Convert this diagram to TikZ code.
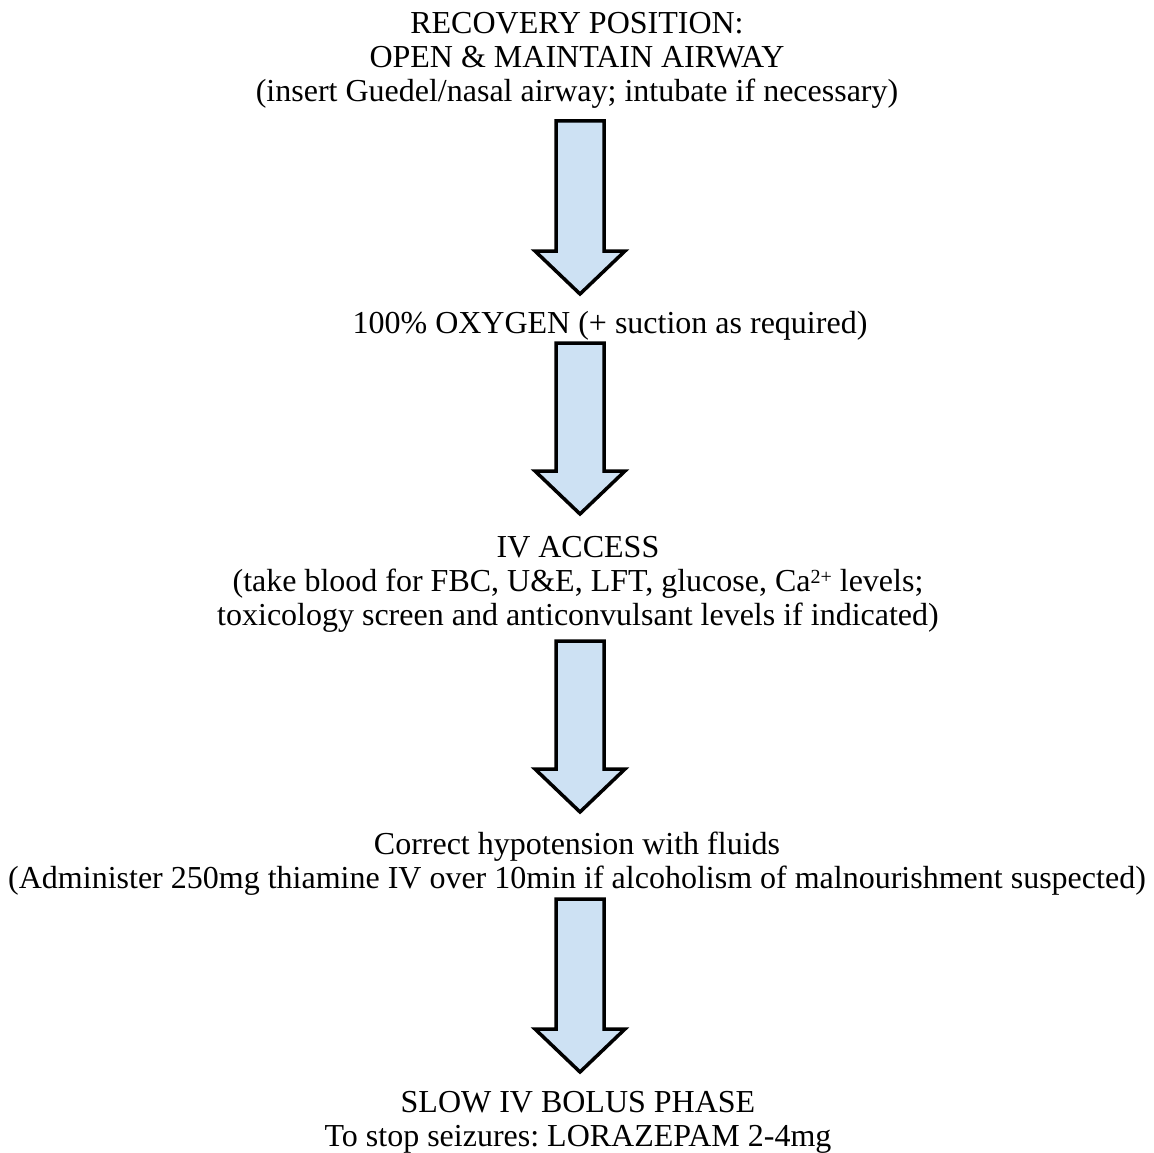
\documentclass[tikz,border=0pt]{standalone}
\usepackage{fontspec}
\setmainfont{Liberation Serif}
\usepackage{xcolor}
\usetikzlibrary{calc}
\definecolor{ArrowBlue}{RGB}{205,225,243}

\tikzset{
	steptext/.style={align=center, inner sep=0pt, anchor=base, font=\fontsize{32}{34}\selectfont},
	blockarrow/.style={draw=black, fill=ArrowBlue, line width=3.5pt, line join=miter}
}
% block arrow from top coordinate #1 down to tip coordinate #2
\newcommand{\flowarrow}[2]{%
	\draw[blockarrow] ($(#1)+(-24,0)$) -- ($(#1)+(24,0)$) -- ($(#2)+(24,-43)$) -- ($(#2)+(45,-43)$)
		-- (#2) -- ($(#2)+(-45,-43)$) -- ($(#2)+(-24,-43)$) -- cycle;}

\begin{document}
\frenchspacing
\begin{tikzpicture}[x=1pt, y=-1pt]
		\useasboundingbox (0,0) rectangle (1154,1153);
		% steps (anchored at the baseline of the last line)
		\node[steptext] (airway) at (577,102) {RECOVERY POSITION:\\OPEN \& MAINTAIN AIRWAY\\(insert Guedel/nasal airway; intubate if necessary)};
		\node[steptext] (oxygen) at (610,333) {100\% OXYGEN (+ suction as required)};
		\node[steptext] (access) at (578,625) {IV ACCESS\\(take blood for FBC, U\&E, LFT, glucose, Ca{\fontsize{20}{20}\selectfont\raisebox{8pt}{2+}} levels;\\toxicology screen and anticonvulsant levels if indicated)};
		\node[steptext] (fluids) at (577,888) {Correct hypotension with fluids\\(Administer 250mg thiamine IV over 10min if alcoholism of malnourishment suspected)};
		\node[steptext] (bolus) at (578,1146) {SLOW IV BOLUS PHASE\\To stop seizures: LORAZEPAM 2-4mg};
		% arrows between steps
		\coordinate (a1top) at (580,121);
		\coordinate (a1tip) at (580,294);
		\coordinate (a2top) at (580,343);
		\coordinate (a2tip) at (580,514);
		\coordinate (a3top) at (580,641);
		\coordinate (a3tip) at (580,812);
		\coordinate (a4top) at (580,899);
		\coordinate (a4tip) at (580,1072);
		\flowarrow{a1top}{a1tip}
		\flowarrow{a2top}{a2tip}
		\flowarrow{a3top}{a3tip}
		\flowarrow{a4top}{a4tip}
	\end{tikzpicture}
\end{document}
